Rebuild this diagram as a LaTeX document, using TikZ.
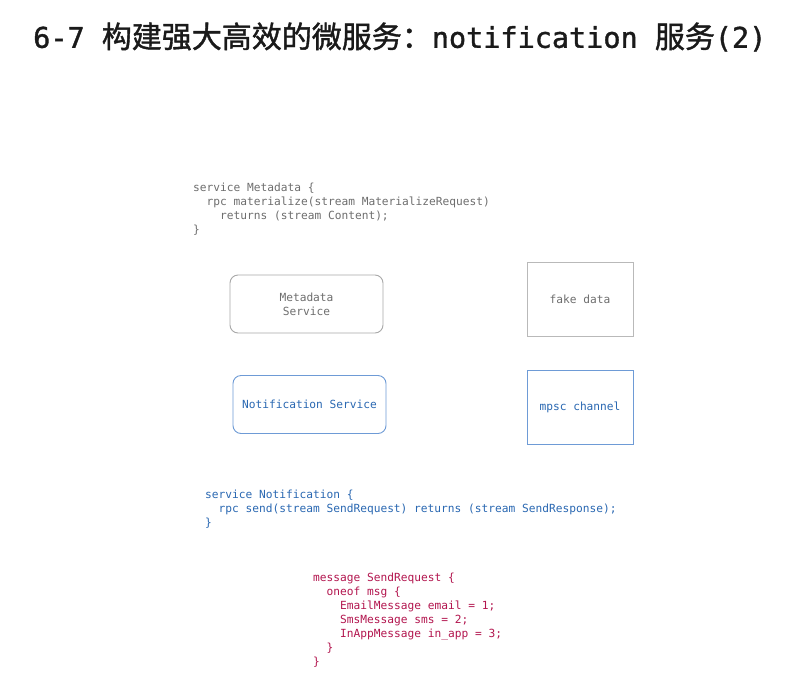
\documentclass[tikz,border=0pt]{standalone}
\usepackage{fontspec}
\setmonofont{DejaVu Sans Mono}
\newfontfamily\cjk[FakeBold=1.3]{Noto Sans CJK SC}
\newfontfamily\titlemono[FakeBold=1.3]{DejaVu Sans Mono}
\usetikzlibrary{positioning}
\definecolor{codegray}{HTML}{6E6E6E}
\definecolor{boxgray}{HTML}{A8A8A8}
\definecolor{boxblue}{HTML}{6E9BD6}
\definecolor{textblue}{HTML}{2A68B2}
\definecolor{msgred}{HTML}{B3164F}
\definecolor{titleink}{HTML}{1A1A1A}
\newcommand{\ind}[1]{\phantom{#1}}

\begin{document}
\begin{tikzpicture}[x=1pt,y=-1pt,
  mono/.style={font={\fontsize{11.2}{14}\selectfont\ttfamily}},
  code/.style={mono,anchor=north west,inner sep=0pt,align=left},
  box/.style={draw,mono,align=center,line width=0.9pt,minimum width=153pt,minimum height=58pt,rounded corners=8pt},
  store/.style={draw,mono,align=center,line width=0.9pt,minimum width=106pt,minimum height=74pt}]
\useasboundingbox[fill=white] (0,0) rectangle (799,699);
% title
\node[anchor=west,inner sep=0pt,text=titleink,font={\fontsize{28.5}{30}\selectfont}] (title) at (33,37)
  {\titlemono 6-7 {\cjk\fontsize{30}{30}\selectfont 构建强大高效的微服务：}notification {\cjk\fontsize{30}{30}\selectfont 服务}(2)};
% proto for the metadata service
\node[code,text=codegray] (metaproto) at (193,183)
  {service Metadata \{\\
   \ind{xx}rpc materialize(stream MaterializeRequest)\\
   \ind{xxxx}returns (stream Content);\\
   \}};
\node[box,draw=boxgray,text=codegray] (meta) at (306.5,304) {Metadata\\Service};
\node[store,draw=boxgray!80,text=codegray] (fake) at (580,299) {fake data};
\node[box,draw=boxblue,text=textblue] (notif) at (309.5,404.5) {Notification Service};
\node[store,draw=boxblue,text=textblue] (mpsc) at (580,407) {mpsc channel};
% proto for the notification service
\node[code,text=textblue] (notifproto) at (205,490)
  {service Notification \{\\
   \ind{xx}rpc send(stream SendRequest) returns (stream SendResponse);\\
   \}};
\node[code,text=msgred] (sendreq) at (313,573)
  {message SendRequest \{\\
   \ind{xx}oneof msg \{\\
   \ind{xxxx}EmailMessage email = 1;\\
   \ind{xxxx}SmsMessage sms = 2;\\
   \ind{xxxx}InAppMessage in\_app = 3;\\
   \ind{xx}\}\\
   \}};
\end{tikzpicture}
\end{document}
